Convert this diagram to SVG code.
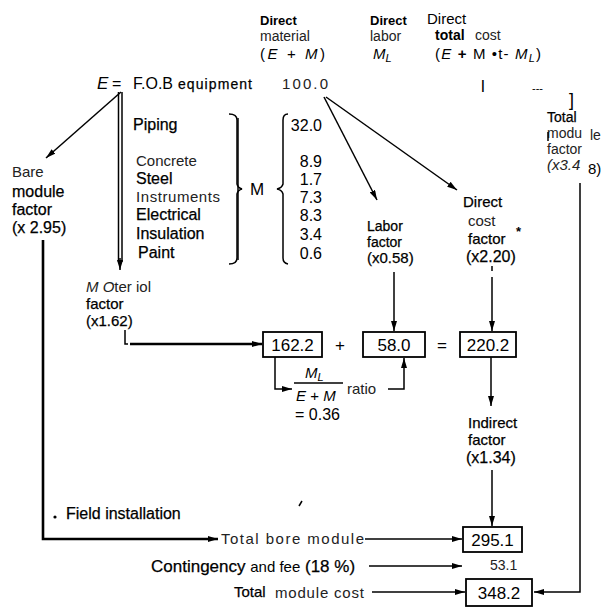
<svg xmlns="http://www.w3.org/2000/svg" width="609" height="607" viewBox="0 0 609 607">
<style>
text{font-family:"Liberation Sans",Arial,Helvetica,sans-serif;fill:#000}
.l{fill:#222}
.m{stroke:#000;stroke-width:0.25}
.i{font-style:italic}
.ln{stroke:#000;fill:none;stroke-width:1.5}
.th{stroke-width:2.6}
.box{fill:#fff;stroke:#000;stroke-width:1.8}
.bx{font-size:17px;text-anchor:middle}
</style>
<defs>
<marker id="ah" viewBox="0 0 10 6" refX="10" refY="3" markerWidth="10" markerHeight="6" markerUnits="userSpaceOnUse" orient="auto"><path d="M0,0 L10,3 L0,6 z" fill="#000"/></marker>
</defs>
<rect width="609" height="607" fill="#fff"/>

<g id="hdr-material">
<text x="260" y="25" font-size="13" font-weight="bold">Direct</text>
<text x="260" y="41" font-size="14" class="l">material</text>
<text x="260" y="59" font-size="15" textLength="65">(<tspan class="i">E</tspan> + <tspan class="i">M</tspan>)</text>
</g>
<g id="hdr-labor">
<text x="370" y="25" font-size="13" font-weight="bold">Direct</text>
<text x="370" y="41" font-size="14" class="l">labor</text>
<text x="373" y="59" font-size="15" class="i">M<tspan font-size="11" dy="3">L</tspan></text>
</g>
<g id="hdr-total">
<text x="427" y="24" font-size="15">Direct</text>
<text x="435" y="40" font-size="14" font-weight="bold">total</text>
<text x="475" y="40" font-size="14" class="l">cost</text>
<text x="435" y="59" font-size="15" textLength="106">(<tspan class="i">E</tspan> <tspan font-weight="bold">+</tspan> M •t- <tspan class="i">M<tspan font-size="11" dy="3">L</tspan></tspan><tspan dy="-3">)</tspan></text>
<text x="481" y="92" font-size="17">l</text>
<text x="532" y="92" font-size="11">---</text>
<text x="569" y="106" font-size="18">]</text>
</g>

<g id="equipment">
<text x="97" y="89" font-size="17" class="i">E</text>
<text x="112" y="89" font-size="16">=</text>
<text x="133" y="89" font-size="16">F.O.B</text>
<text x="178" y="89" font-size="14" class="m" textLength="74">equipment</text>
<text x="282" y="89" font-size="15" textLength="46" class="l">100.0</text>
</g>

<g id="components">
<text x="133" y="130" font-size="16" class="m">Piping</text>
<text x="136" y="166" font-size="15" class="l">Concrete</text>
<text x="136" y="184" font-size="16" class="m">Steel</text>
<text x="136" y="202" font-size="15" class="l" textLength="84">Instruments</text>
<text x="136" y="220" font-size="16" class="m">Electrical</text>
<text x="136" y="239" font-size="16" class="m">Insulation</text>
<text x="138" y="258" font-size="16" class="m">Paint</text>
<path class="ln" d="M229,114 Q237,114 237,120 L237,184 Q238,188 242,189 Q238,190 237,194 L237,258 Q237,264 229,264" stroke-width="1.5"/>
<line class="ln" x1="238" y1="118" x2="238" y2="260" stroke-width="3"/>
<text x="250" y="195" font-size="17">M</text>
<path class="ln" d="M288,114 Q283,114 283,120 L283,184 Q282,188 277,189 Q282,190 283,194 L283,258 Q283,263 288,264"/>
<g font-size="16" text-anchor="end" class="l">
<text x="322" y="131">32.0</text>
<text x="322" y="167">8.9</text>
<text x="322" y="185">1.7</text>
<text x="322" y="203">7.3</text>
<text x="322" y="221">8.3</text>
<text x="322" y="240">3.4</text>
<text x="322" y="259">0.6</text>
</g>
</g>

<g id="bare-module-factor">
<text x="12" y="177" font-size="15" class="l">Bare</text>
<text x="12" y="197" font-size="16" class="m">module</text>
<text x="12" y="215" font-size="16" class="m">factor</text>
<text x="12" y="233" font-size="16" class="m">(x 2.95)</text>
</g>

<g id="material-factor">
<text x="86" y="292" font-size="15" class="l"><tspan class="i">M O</tspan>ter iol</text>
<text x="86" y="309" font-size="15" class="m">factor</text>
<text x="86" y="326" font-size="15" class="m">(x1.62)</text>
</g>

<g id="labor-factor">
<text x="367" y="231" font-size="14" class="m">Labor</text>
<text x="367" y="247" font-size="14" class="m">factor</text>
<text x="367" y="263" font-size="15" class="m">(x0.58)</text>
</g>

<g id="direct-cost-factor">
<text x="463" y="207" font-size="15" class="m">Direct</text>
<text x="468" y="226" font-size="15" class="l">cost</text>
<text x="468" y="244" font-size="15" class="m">factor</text>
<text x="516" y="236" font-size="13" font-weight="bold">*</text>
<text x="466" y="262" font-size="16" class="m">(x2.20)</text>
</g>

<g id="total-module-factor">
<text x="547" y="122" font-size="14" class="m">Total</text>
<text x="547" y="138" font-size="14" class="l">modu</text>
<text x="590" y="140" font-size="14" class="l">le</text>
<line x1="548" y1="132" x2="548" y2="141" stroke="#000" stroke-width="1.5"/>
<text x="547" y="154" font-size="14" class="l">factor</text>
<text x="547" y="170" font-size="15" class="i l">(x3.4</text>
<text x="588" y="174" font-size="15">8)</text>
</g>

<g id="box-162">
<rect class="box" x="263" y="332" width="59" height="25"/>
<text class="bx" x="292.5" y="351">162.2</text>
</g>
<text x="335" y="351" font-size="17">+</text>
<g id="box-58">
<rect class="box" x="363" y="332" width="62" height="25"/>
<text class="bx" x="394" y="351">58.0</text>
</g>
<text x="437" y="351" font-size="17">=</text>
<g id="box-220">
<rect class="box" x="460" y="332" width="56" height="25"/>
<text class="bx" x="488" y="351">220.2</text>
</g>

<g id="ratio">
<text x="305" y="378" font-size="15" class="i">M<tspan font-size="11" dy="3">L</tspan></text>
<line x1="294" y1="383" x2="343" y2="383" stroke="#000" stroke-width="1.3"/>
<text x="296" y="401" font-size="15"><tspan class="i">E</tspan> + <tspan class="i">M</tspan></text>
<text x="347" y="394" font-size="15" class="l">ratio</text>
<text x="295" y="420" font-size="16">= 0.36</text>
</g>

<g id="indirect-factor">
<text x="468" y="428" font-size="15" class="m">Indirect</text>
<text x="468" y="445" font-size="15" class="m">factor</text>
<text x="466" y="463" font-size="16" class="m">(x1.34)</text>
</g>

<g id="field-installation">
<circle cx="55" cy="517" r="1.6" fill="#000"/>
<text x="66" y="519" font-size="16" class="m">Field installation</text>
</g>

<g id="total-bare-module">
<text x="221" y="544" font-size="15" class="l" textLength="143">Total  bore  module</text>
<rect class="box" x="463" y="527" width="59" height="25"/>
<text class="bx" x="492.5" y="546">295.1</text>
</g>

<g id="contingency">
<text x="151" y="572" font-size="17" class="m">Contingency <tspan font-size="15" stroke-width="0">and fee</tspan> (18 %)</text>
<text x="490" y="570" font-size="14" class="l">53.1</text>
</g>

<g id="total-module-cost">
<text x="234" y="597" font-size="15" class="m">Total</text>
<text x="275" y="598" font-size="15" class="l" textLength="89">module  cost</text>
<rect class="box" x="466" y="579" width="66" height="27"/>
<text class="bx" x="499" y="599" font-size="19">348.2</text>
</g>

<g id="connectors">
<line class="ln" x1="121" y1="92" x2="46" y2="158" marker-end="url(#ah)"/>
<line class="ln" x1="118.5" y1="92" x2="118.5" y2="262" stroke-width="1.8"/>
<line class="ln" x1="122" y1="92" x2="122" y2="262" stroke-width="1.8"/>
<line class="ln" x1="120" y1="258" x2="120" y2="270" marker-end="url(#ah)"/>
<line class="ln" x1="324" y1="97" x2="377" y2="200" marker-end="url(#ah)"/>
<line class="ln" x1="326" y1="97" x2="457" y2="190" marker-end="url(#ah)"/>
<line class="ln" x1="394" y1="272" x2="394" y2="331" marker-end="url(#ah)"/>
<line class="ln" x1="492" y1="266" x2="492" y2="271"/>
<line class="ln" x1="492" y1="277" x2="492" y2="331" marker-end="url(#ah)"/>
<path class="ln" d="M125,330 L125,344 L128,344"/>
<line class="ln th" x1="130" y1="344" x2="262" y2="344" marker-end="url(#ah)"/>
<path class="ln" d="M275,357 L275,389 L292,389" marker-end="url(#ah)"/>
<path class="ln" d="M388,389 L404,389 L404,358" marker-end="url(#ah)"/>
<line class="ln" x1="491" y1="357" x2="491" y2="406" marker-end="url(#ah)"/>
<line class="ln" x1="492" y1="470" x2="492" y2="526" marker-end="url(#ah)"/>
<path class="ln th" d="M43,240 L43,539 L218,539" marker-end="url(#ah)"/>
<line class="ln" x1="365" y1="539" x2="462" y2="539" stroke-width="2" marker-end="url(#ah)"/>
<line class="ln" x1="369" y1="566" x2="462" y2="566" stroke-width="2" marker-end="url(#ah)"/>
<line class="ln" x1="372" y1="592" x2="465" y2="592" stroke-width="2.2" marker-end="url(#ah)"/>
<path class="ln" d="M580,183 L580,592 L534,592" stroke-width="2.8" marker-end="url(#ah)"/>
<line class="ln" x1="299" y1="506" x2="302" y2="501" stroke-width="0.8"/>
</g>
</svg>
